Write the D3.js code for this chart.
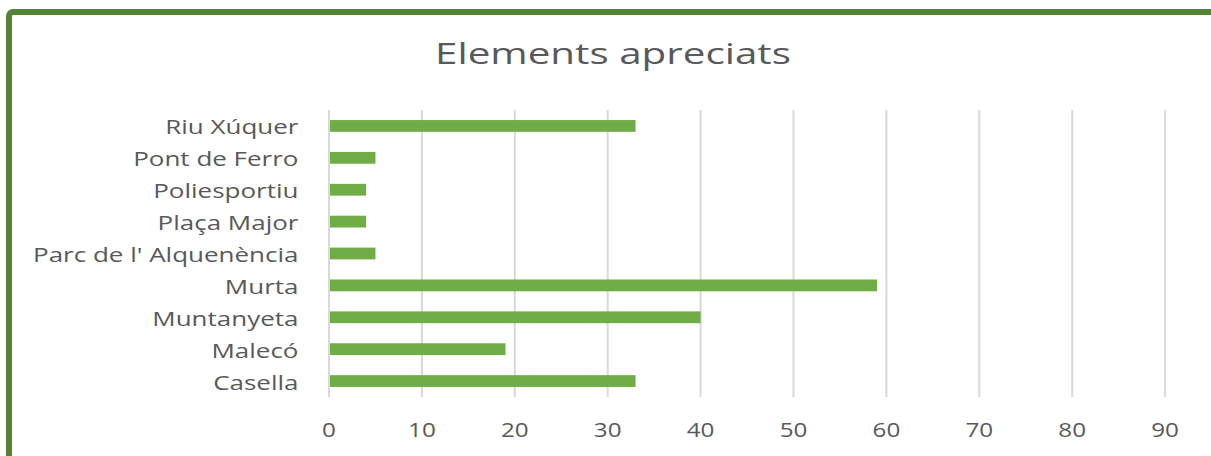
<!DOCTYPE html>
<html>
<head>
<meta charset="utf-8">
<script src="https://cdn.jsdelivr.net/npm/d3@7"></script>
<style>
  html, body { margin: 0; padding: 0; background: #fff; }
  svg { display: block; }
  text { font-family: "Open Sans", "Noto Sans", sans-serif; fill: #595959; }
</style>
</head>
<body>
<svg id="chart" width="1211" height="456"></svg>
<script>
const categories = ["Riu Xúquer", "Pont de Ferro", "Poliesportiu", "Plaça Major", "Parc de l' Alquenència", "Murta", "Muntanyeta", "Malecó", "Casella"];
const values = [33, 5, 4, 4, 5, 59, 40, 19, 33];
const xTicks = [0, 10, 20, 30, 40, 50, 60, 70, 80, 90, 100];
const title = "Elements apreciats";

const svg = d3.select("#chart");

// helper: horizontal stretch factor so that a sample string reaches a target width
function stretchFor(sample, fontSize, targetWidth) {
  const t = svg.append("text").style("font-size", fontSize + "px").text(sample);
  const w = t.node().getComputedTextLength();
  t.remove();
  return w > 0 ? targetWidth / w : 1;
}

// chart area border (cropped at right and bottom)
svg.append("rect")
  .attr("x", 9).attr("y", 12)
  .attr("width", 1260).attr("height", 500)
  .attr("rx", 4)
  .attr("fill", "#fff")
  .attr("stroke", "#548235")
  .attr("stroke-width", 6);

const x = d3.scaleLinear().domain([0, 100]).range([329, 1258]);
const y = d3.scaleBand().domain(categories).range([110, 397]).paddingInner(0.63).paddingOuter(0.315);

// gridlines
svg.append("g")
  .selectAll("line")
  .data(xTicks)
  .join("line")
  .attr("x1", d => x(d)).attr("x2", d => x(d))
  .attr("y1", 110).attr("y2", 397)
  .attr("stroke", "#d9d9d9")
  .attr("stroke-width", 2);

// bars
svg.append("g")
  .selectAll("rect")
  .data(categories)
  .join("rect")
  .attr("x", x(0) + 1)
  .attr("y", d => y(d))
  .attr("width", (d, i) => x(values[i]) - x(0) - 1)
  .attr("height", y.bandwidth())
  .attr("fill", "#70ad47");

// x axis labels
const tickFont = 20.5;
const sxTick = stretchFor("80", tickFont, 27.7);
const xAxis = d3.axisBottom(x).tickValues(xTicks.slice(0, 10)).tickSize(0).tickPadding(0);
const gx = svg.append("g").attr("transform", "translate(0,436.5)").call(xAxis);
gx.select(".domain").remove();
gx.selectAll(".tick").attr("transform", d => `translate(${x(d)},0) scale(${sxTick},1)`);
gx.selectAll("text")
  .attr("y", 0).attr("dy", 0)
  .attr("text-anchor", "middle")
  .style("font-size", tickFont + "px")
  .style("font-family", "'Open Sans', sans-serif")
  .attr("fill", "#595959");

// y axis labels
const catFont = 19.5;
const sxCat = stretchFor("Parc de l' Alquenència", catFont, 265.6);
const yAxis = d3.axisLeft(y).tickSize(0).tickPadding(0);
const gy = svg.append("g").attr("transform", "translate(298.5,0)").call(yAxis);
gy.select(".domain").remove();
gy.selectAll(".tick").attr("transform", d => `translate(0,${y(d) + y.bandwidth() / 2 + 8.5}) scale(${sxCat},1)`);
gy.selectAll("text")
  .attr("x", 0).attr("dy", 0)
  .attr("text-anchor", "end")
  .style("font-size", catFont + "px")
  .style("font-family", "'Open Sans', sans-serif")
  .attr("fill", "#595959");

// title
const titleFont = 29;
const sxTitle = stretchFor(title, titleFont, 356);
svg.append("text")
  .attr("transform", `translate(613,64) scale(${sxTitle},1)`)
  .attr("text-anchor", "middle")
  .style("font-size", titleFont + "px")
  .text(title);
</script>
</body>
</html>
